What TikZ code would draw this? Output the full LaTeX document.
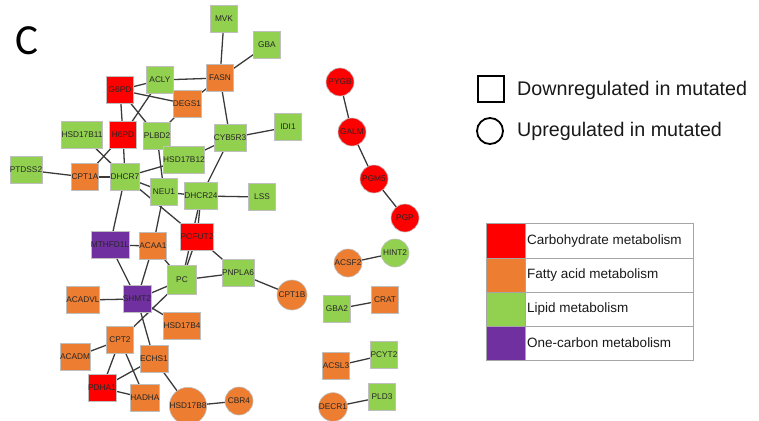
\documentclass[tikz,border=0pt]{standalone}
\usepackage{fontspec}
\setmainfont{Liberation Sans}
\newfontfamily\cfont{Carlito}
\usetikzlibrary{backgrounds}
\definecolor{cred}{HTML}{FF0000}
\definecolor{corange}{HTML}{ED7D31}
\definecolor{cgreen}{HTML}{92D050}
\definecolor{cpurple}{HTML}{7030A0}
\definecolor{edgegray}{HTML}{3A3A3A}
\definecolor{bordergray}{HTML}{BFBFBF}
\definecolor{labelgray}{HTML}{262626}
\begin{document}
\begin{tikzpicture}[x=1pt,y=-1pt,
  gene/.style={draw=bordergray, line width=0.6pt, inner sep=0pt,
    font=\fontsize{8.3}{8.3}\selectfont, text=labelgray},
  sq/.style={gene, rectangle, minimum size=27pt},
  ci/.style={gene, circle, minimum size=28pt},
  red/.style={fill=cred}, org/.style={fill=corange},
  grn/.style={fill=cgreen}, pur/.style={fill=cpurple},
  edge/.style={draw=edgegray, line width=1.3pt},
  legtext/.style={anchor=west, inner sep=0pt, text=black!90},
  cell/.style={draw=black!35, line width=0.7pt}]
\useasboundingbox (0,0) rectangle (759,420);
\node[inner sep=0pt, font=\cfont\fontsize{43}{43}\selectfont] (lbl) at (27,41) {C};
% left network
\node[sq,red] (G6PD) at (120,90) {G6PD};
\node[sq,grn] (ACLY) at (160,80) {ACLY};
\node[sq,org] (DEGS1) at (187,104) {DEGS1};
\node[sq,red] (H6PD) at (123,135) {H6PD};
\node[sq,grn] (PLBD2) at (157,136) {PLBD2};
\node[sq,grn] (HSD17B11) at (82,135) {HSD17B11};
\node[sq,grn] (MVK) at (224,19) {MVK};
\node[sq,grn] (GBA) at (267,45) {GBA};
\node[sq,org] (FASN) at (220,78) {FASN};
\node[sq,grn] (CYB5R3) at (230,138) {CYB5R3};
\node[sq,grn] (IDI1) at (288,127) {IDI1};
\node[sq,grn] (HSD17B12) at (184,160) {HSD17B12};
\node[sq,grn] (DHCR7) at (125,177) {DHCR7};
\node[sq,org] (CPT1A) at (85,177) {CPT1A};
\node[sq,grn] (PTDSS2) at (26,170) {PTDSS2};
\node[sq,grn] (NEU1) at (164,192) {NEU1};
\node[sq,grn] (DHCR24) at (201,196) {DHCR24};
\node[sq,grn] (LSS) at (262,197) {LSS};
\node[sq,red] (POFUT2) at (197,237) {POFUT2};
\node[sq,pur] (MTHFD1L) at (110,245) {MTHFD1L};
\node[sq,org] (ACAA1) at (153,246) {ACAA1};
\node[sq,grn,minimum size=29pt] (PC) at (182,280) {PC};
\node[sq,grn] (PNPLA6) at (238,273) {PNPLA6};
\node[sq,pur] (SHMT2) at (137,299) {SHMT2};
\node[sq,org] (ACADVL) at (83,300) {ACADVL};
\node[sq,org] (HSD17B4) at (182,326) {HSD17B4};
\node[sq,org] (CPT2) at (120,340) {CPT2};
\node[sq,org] (ACADM) at (75,357) {ACADM};
\node[sq,org] (ECHS1) at (154,359) {ECHS1};
\node[sq,red] (PDHA1) at (102,388) {PDHA1};
\node[sq,org] (HADHA) at (145,398) {HADHA};
\node[ci,org] (HSD17B8) at (188,406) {HSD17B8};
\node[ci,org] (CBR4) at (239,401) {CBR4};
\node[ci,org,minimum size=30pt] (CPT1B) at (292,295) {CPT1B};
% right clusters
\node[ci,red] (PYGB) at (340,82) {PYGB};
\node[ci,red] (GALM) at (352,132) {GALM};
\node[ci,red] (PGM5) at (374,179) {PGM5};
\node[ci,red] (PGP) at (405,218) {PGP};
\node[ci,grn] (HINT2) at (395,253) {HINT2};
\node[ci,org] (ACSF2) at (348,263) {ACSF2};
\node[sq,org] (CRAT) at (385,300) {CRAT};
\node[sq,grn] (GBA2) at (337,309) {GBA2};
\node[sq,grn] (PCYT2) at (384,355) {PCYT2};
\node[sq,org] (ACSL3) at (336,366) {ACSL3};
\node[sq,grn] (PLD3) at (382,397) {PLD3};
\node[ci,org] (DECR1) at (333,407) {DECR1};
% edges
\begin{pgfonlayer}{background}
\foreach \a/\b in {G6PD/ACLY, G6PD/DEGS1, G6PD/H6PD, G6PD/PLBD2, ACLY/H6PD,
  ACLY/FASN, DEGS1/FASN, DEGS1/PLBD2, FASN/MVK, FASN/GBA, FASN/CYB5R3,
  CYB5R3/IDI1, CYB5R3/HSD17B12, CYB5R3/DHCR24, HSD17B12/DHCR7, PLBD2/NEU1,
  H6PD/DHCR7, HSD17B11/DHCR7, H6PD/CPT1A, PTDSS2/CPT1A, CPT1A/DHCR7,
  DHCR7/NEU1, DHCR7/POFUT2, NEU1/DHCR24, DHCR7/MTHFD1L, NEU1/ACAA1,
  MTHFD1L/ACAA1, DHCR24/LSS, DHCR24/POFUT2, POFUT2/PC, DHCR24/PC,
  POFUT2/PNPLA6, PC/PNPLA6, PNPLA6/CPT1B, ACAA1/PC, ACAA1/SHMT2,
  MTHFD1L/SHMT2, SHMT2/PC, ACADVL/SHMT2, PC/CPT2, SHMT2/HSD17B4,
  SHMT2/ECHS1, CPT2/ACADM, CPT2/PDHA1, CPT2/HADHA, PDHA1/ECHS1,
  PDHA1/HADHA, ECHS1/HSD17B8, HSD17B8/CBR4, PYGB/GALM, GALM/PGM5,
  PGM5/PGP, ACSF2/HINT2, GBA2/CRAT, ACSL3/PCYT2, DECR1/PLD3}
  \draw[edge] (\a.center) -- (\b.center);
\end{pgfonlayer}
% shape legend
\node[draw=black, line width=1.8pt, minimum size=26pt, inner sep=0pt] (lsq) at (491,89) {};
\node[legtext, font=\fontsize{19.7}{20}\selectfont] (lsqt) at (517,90) {Downregulated in mutated};
\node[draw=black, line width=1.8pt, circle, minimum size=26pt, inner sep=0pt] (lci) at (490,131) {};
\node[legtext, font=\fontsize{19.7}{20}\selectfont] (lcit) at (517,131) {Upregulated in mutated};
% colour legend
\fill[cred] (486,223) rectangle (525,258);
\fill[corange] (486,258) rectangle (525,292);
\fill[cgreen] (486,292) rectangle (525,326);
\fill[cpurple] (486,326) rectangle (525,360);
\draw[cell] (486,223) rectangle (693,360);
\draw[cell] (486,258) -- (693,258) (486,292) -- (693,292) (486,326) -- (693,326)
  (525,223) -- (525,360);
\node[legtext, font=\fontsize{13.5}{14}\selectfont] (c1) at (527,241) {Carbohydrate metabolism};
\node[legtext, font=\fontsize{13.5}{14}\selectfont] (c2) at (527,275) {Fatty acid metabolism};
\node[legtext, font=\fontsize{13.5}{14}\selectfont] (c3) at (527,309) {Lipid metabolism};
\node[legtext, font=\fontsize{13.5}{14}\selectfont] (c4) at (527,343) {One-carbon metabolism};
\end{tikzpicture}
\end{document}
